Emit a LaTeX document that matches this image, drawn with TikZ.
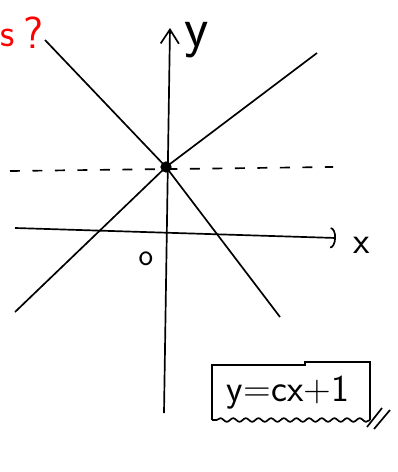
\documentclass[tikz,border=0pt]{standalone}
\usepackage{tikz}
\usetikzlibrary{positioning,arrows.meta,decorations.pathmorphing}

\begin{document}
\begin{tikzpicture}[x=0.025cm, y=-0.025cm, line width=1.2pt,
    every node/.style={font=\sffamily, inner sep=0pt},
    dot/.style={circle, fill, minimum size=8pt},
    guide/.style={dash pattern=on 7pt off 9pt},
    wavy/.style={decorate, decoration={snake, amplitude=1.3pt, segment length=9pt}}]
      \useasboundingbox (0,0) rectangle (398,472);
      % axes
      \coordinate (xl) at (15,228);
      \coordinate (xr) at (336,238);
      \coordinate (yb) at (164,413);
      \coordinate (yt) at (170,28);
      \draw[-{Arc Barb[length=4pt,width=15pt]}] (xl) -- (xr);
      \draw[-{Straight Barb[length=10pt,width=13pt]}] (yb) -- (yt);
      \node[font=\sffamily\fontsize{27}{27}\selectfont] (x) at (362,245) {x};
      \node[font=\sffamily\fontsize{40}{40}\selectfont] (y) at (197,40) {y};
      \node[font=\sffamily\fontsize{22}{22}\selectfont] (o) at (146,259) {o};
      % common point and lines
      \node[dot] (P) at (166,167) {};
      \coordinate (d1) at (10,171);
      \coordinate (d2) at (333,167);
      \draw[guide] (d1) -- (d2);
      \coordinate (a1) at (45,40);
      \coordinate (a2) at (280,317);
      \coordinate (b1) at (15,312);
      \coordinate (b2) at (317,53);
      \draw (a1) -- (P.center) -- (a2);
      \draw (b1) -- (P.center) -- (b2);
      % question
      \node[red, font=\sffamily\fontsize{32}{32}\selectfont] (q) at (33,33) {?};
      \node[red, font=\sffamily\fontsize{28}{28}\selectfont] (s) at (8,38) {s};
      % equation box
      \node[font=\sffamily\fontsize{27}{27}\selectfont] (eq) at (288,393) {y=cx+1};
      \draw (212,420) -- (212,365) -- (305,365) -- (305,362) -- (370,362) -- (370,420);
      \draw[wavy] (370,420) -- (212,420);
      \draw (367,427) -- (382,408);
      \draw (374,429) -- (390,410);
    \end{tikzpicture}
\end{document}
